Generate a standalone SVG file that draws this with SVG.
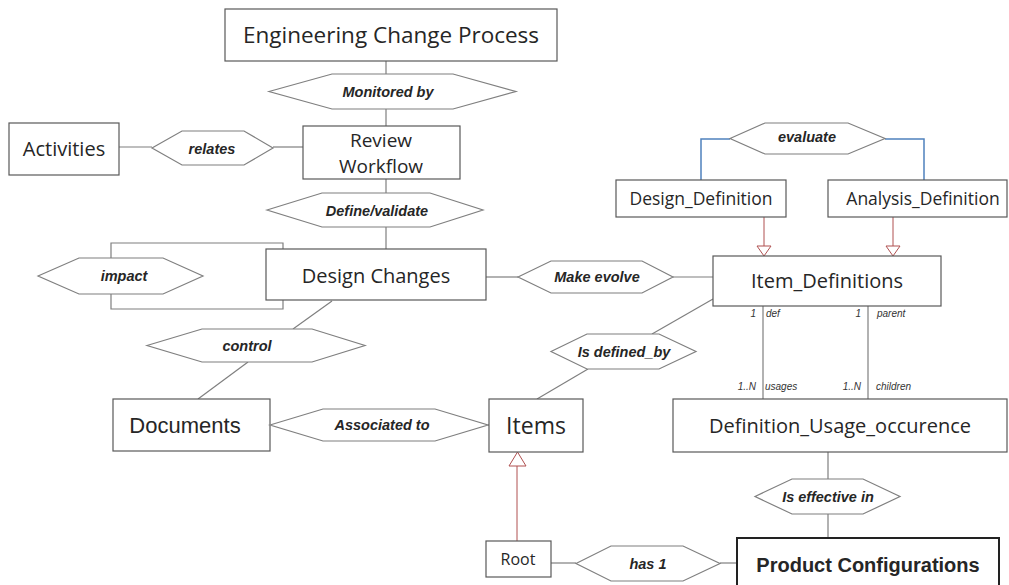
<svg xmlns="http://www.w3.org/2000/svg" width="1009" height="585" viewBox="0 0 1009 585">
<style>
.box{fill:#fff;stroke:#595959;stroke-width:1.2}
.hex{fill:#fff;stroke:#7f7f7f;stroke-width:1.2}
.lbl{font-family:"Open Sans","Noto Sans",sans-serif;fill:#262626;text-anchor:middle}
.rel{font-family:"Liberation Sans",Arial,sans-serif;font-weight:bold;font-style:italic;font-size:14.5px;fill:#262626;text-anchor:middle}
.card{font-family:"Liberation Sans",Arial,sans-serif;font-style:italic;font-size:10px;fill:#333}
.ln{fill:none;stroke:#7f7f7f;stroke-width:1.2}
.blue{fill:none;stroke:#4f81bd;stroke-width:1.5}
.red{fill:none;stroke:#b05050;stroke-width:1}
.tri{fill:#fff;stroke:#b05050;stroke-width:1}
</style>
<rect width="1009" height="585" fill="#fff"/>
<g id="connectors">
<line class="ln" x1="386" y1="61" x2="386" y2="74"/>
<line class="ln" x1="386" y1="109" x2="386" y2="126"/>
<line class="ln" x1="119" y1="147" x2="152" y2="147"/>
<line class="ln" x1="273" y1="147" x2="303" y2="147"/>
<line class="ln" x1="386" y1="179" x2="386" y2="193"/>
<line class="ln" x1="386" y1="227" x2="386" y2="249"/>
<polyline class="ln" points="283,249 283,243 111,243 111,258"/>
<polyline class="ln" points="111,294 111,309 283,309 283,300"/>
<line class="ln" x1="486" y1="277" x2="518" y2="277"/>
<line class="ln" x1="673" y1="277" x2="713" y2="277"/>
<line class="ln" x1="332" y1="301" x2="293" y2="329"/>
<line class="ln" x1="248" y1="362" x2="198" y2="399"/>
<line class="ln" x1="488" y1="425" x2="489" y2="425"/>
<line class="ln" x1="713" y1="299" x2="652" y2="334"/>
<line class="ln" x1="588" y1="369" x2="537" y2="399"/>
<line class="ln" x1="763" y1="306" x2="763" y2="399"/>
<line class="ln" x1="868" y1="306" x2="868" y2="399"/>
<line class="ln" x1="828" y1="452" x2="828" y2="479"/>
<line class="ln" x1="828" y1="514" x2="828" y2="538"/>
<line class="ln" x1="551" y1="563" x2="576" y2="563"/>
<line class="ln" x1="720" y1="563" x2="737" y2="563"/>
<polyline class="blue" points="730,139 701,139 701,180"/>
<polyline class="blue" points="885,139 924,139 924,180"/>
<line class="red" x1="764" y1="217" x2="764" y2="246"/>
<polygon class="tri" points="757,246 771,246 764,256"/>
<line class="red" x1="893" y1="217" x2="893" y2="246"/>
<polygon class="tri" points="886,246 900,246 893,256"/>
<line class="red" x1="517" y1="541" x2="517" y2="466"/>
<polygon class="tri" points="509,466 526,466 517.5,452"/>
<text class="card" x="756" y="317" text-anchor="end">1</text>
<text class="card" x="766" y="317">def</text>
<text class="card" x="861" y="317" text-anchor="end">1</text>
<text class="card" x="877" y="317">parent</text>
<text class="card" x="756" y="390" text-anchor="end">1..N</text>
<text class="card" x="765" y="390">usages</text>
<text class="card" x="861" y="390" text-anchor="end">1..N</text>
<text class="card" x="876" y="390">children</text>
</g>
<g id="engineering-change-process"><rect class="box" x="225" y="9" width="332" height="52"/><text class="lbl" x="391" y="43" style="font-size:22.5px">Engineering Change Process</text></g>
<g id="monitored-by"><polygon class="hex" points="269,91.5 332,74 453,74 516,91.5 453,109 332,109"/><text class="rel" x="388" y="97">Monitored by</text></g>
<g id="activities"><rect class="box" x="9" y="123" width="110" height="52"/><text class="lbl" x="64" y="156" style="font-size:20px">Activities</text></g>
<g id="relates"><polygon class="hex" points="152,148 182,131 244,131 273,148 244,165 182,165"/><text class="rel" x="212" y="154">relates</text></g>
<g id="review-workflow"><rect class="box" x="303" y="126" width="157" height="53"/><text class="lbl" x="381" y="147" style="font-size:19px">Review</text><text class="lbl" x="381" y="173" style="font-size:19px">Workflow</text></g>
<g id="define-validate"><polygon class="hex" points="267,210 322,193 430,193 483,210 430,227 322,227"/><text class="rel" x="377" y="216">Define/validate</text></g>
<g id="design-changes"><rect class="box" x="266" y="249" width="220" height="51"/><text class="lbl" x="376" y="283" style="font-size:20px">Design Changes</text></g>
<g id="impact"><polygon class="hex" points="38,276 79,258 163,258 203,276 163,294 79,294"/><text class="rel" x="124" y="281">impact</text></g>
<g id="control"><polygon class="hex" points="147,345.5 202,329 312,329 365,345.5 312,362 202,362"/><text class="rel" x="247" y="351">control</text></g>
<g id="documents"><rect class="box" x="113" y="399" width="157" height="52"/><text class="rel" x="185" y="433" style="font-weight:normal;font-style:normal;font-size:22px">Documents</text></g>
<g id="associated-to"><polygon class="hex" points="270,425 323,409 435,409 488,425 435,441 323,441"/><text class="rel" x="382" y="430">Associated to</text></g>
<g id="items"><rect class="box" x="489" y="399" width="94" height="53"/><text class="lbl" x="536" y="434" style="font-size:23px">Items</text></g>
<g id="root"><rect class="box" x="486" y="541" width="65" height="36"/><text class="lbl" x="518" y="565" style="font-size:16px">Root</text></g>
<g id="has-1"><polygon class="hex" points="576,563.5 611,546 683,546 720,563.5 683,581 611,581"/><text class="rel" x="648" y="569">has 1</text></g>
<g id="make-evolve"><polygon class="hex" points="518,277 551,261 642,261 673,277 642,293 551,293"/><text class="rel" x="597" y="282">Make evolve</text></g>
<g id="evaluate"><polygon class="hex" points="730,138.5 765,123 848,123 885,138.5 848,154 765,154"/><text class="rel" x="807" y="142">evaluate</text></g>
<g id="design-definition"><rect class="box" x="616" y="180" width="170" height="37"/><text class="lbl" x="701" y="205" style="font-size:17.5px">Design_Definition</text></g>
<g id="analysis-definition"><rect class="box" x="828" y="180" width="179" height="37"/><text class="lbl" x="923" y="205" style="font-size:17.5px">Analysis_Definition</text></g>
<g id="item-definitions"><rect class="box" x="713" y="256" width="228" height="50"/><text class="lbl" x="827" y="288" style="font-size:20px">Item_Definitions</text></g>
<g id="is-defined-by"><polygon class="hex" points="551,351.5 587,334 659,334 696,351.5 659,369 587,369"/><text class="rel" x="624" y="357">Is defined_by</text></g>
<g id="definition-usage-occurence"><rect class="box" x="673" y="399" width="334" height="53"/><text class="lbl" x="840" y="433" style="font-size:20px">Definition_Usage_occurence</text></g>
<g id="is-effective-in"><polygon class="hex" points="755,496.5 792,479 863,479 900,496.5 863,514 792,514"/><text class="rel" x="828" y="502">Is effective in</text></g>
<g id="product-configurations"><rect class="box" x="737" y="538" width="262" height="60" style="stroke:#222;stroke-width:2"/><text class="rel" x="868" y="572" style="font-style:normal;font-size:20px">Product Configurations</text></g>
</svg>
